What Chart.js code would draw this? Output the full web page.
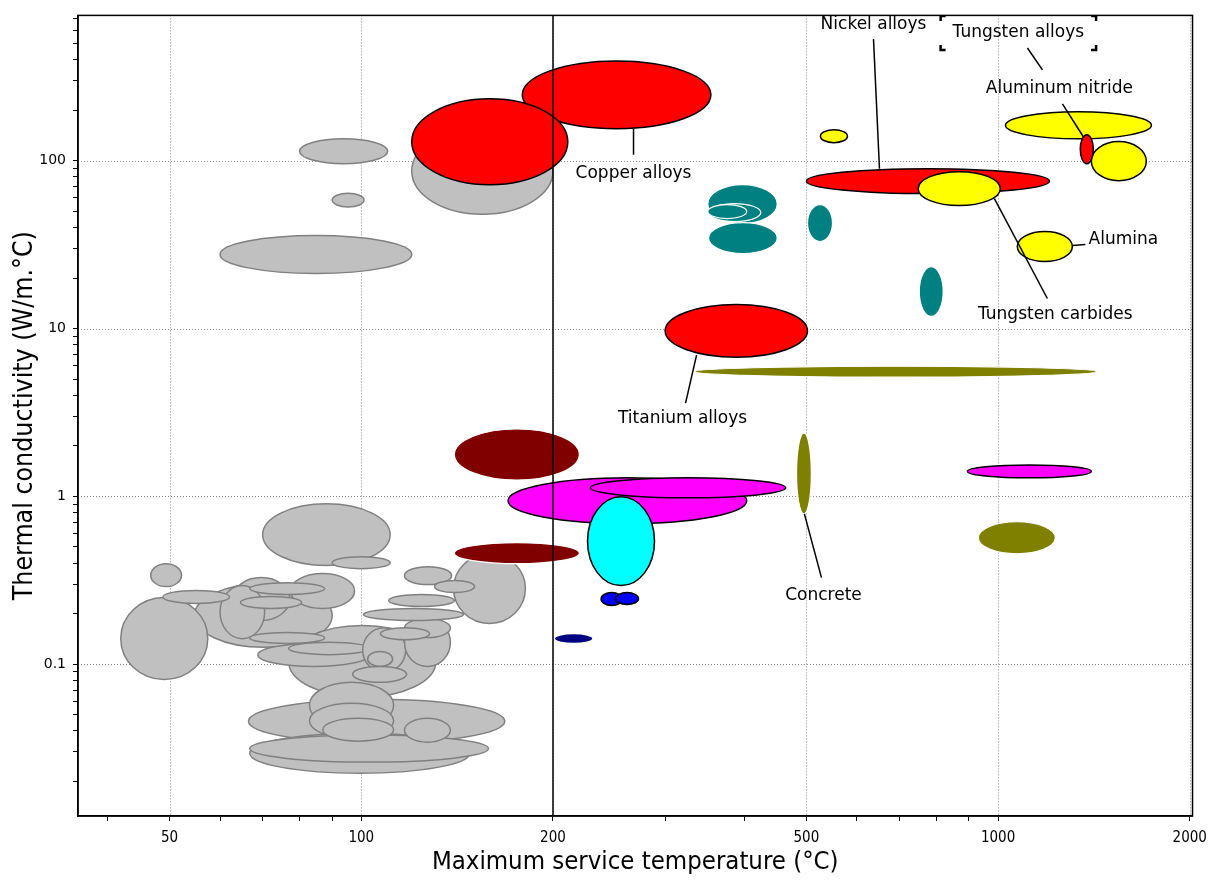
<!DOCTYPE html>
<html>
<head>
<meta charset="utf-8">
<script src="https://cdn.jsdelivr.net/npm/chart.js@4.4.0/dist/chart.umd.min.js"></script>
<style>
  html, body { margin: 0; padding: 0; background: #fff; }
  #wrap { width: 1215px; height: 881px; }
</style>
</head>
<body>
<div id="wrap"><canvas id="chart"></canvas></div>
<script>
// each row is a material family: [Tmin, Tmax, kMin, kMax]
// (max service temperature in °C, thermal conductivity in W/m.°C)
const greyRanges = [
  [54.7, 90, 0.126, 0.302],
  [70, 111, 0.387, 0.903],
  [90, 111, 0.371, 0.437],
  [139.6, 181, 0.175, 0.455],
  [76.9, 131, 0.0635, 0.17],
  [66.5, 168, 0.0338, 0.0618],
  [66.8, 148, 0.0224, 0.0388],
  [66.8, 158.4, 0.0261, 0.0378],
  [82.9, 112.4, 0.0416, 0.078],
  [82.9, 112.4, 0.0362, 0.0585],
  [87, 112.4, 0.0348, 0.0476],
  [116.9, 138, 0.0343, 0.0476],
  [62.8, 77.2, 0.182, 0.328],
  [77.4, 97.6, 0.215, 0.347],
  [60, 70.5, 0.142, 0.294],
  [41.9, 57.4, 0.081, 0.25],
  [48.8, 62.1, 0.23, 0.275],
  [46.7, 52.2, 0.29, 0.397],
  [66.8, 87.6, 0.26, 0.306],
  [64.6, 80.6, 0.215, 0.253],
  [66.8, 87.6, 0.133, 0.1545],
  [68.8, 103, 0.097, 0.133],
  [76.9, 103, 0.114, 0.135],
  [100.5, 117.4, 0.0894, 0.165],
  [102.3, 112, 0.097, 0.119],
  [96.9, 117.8, 0.078, 0.097],
  [116.9, 138, 0.097, 0.187],
  [116.9, 138, 0.144, 0.187],
  [107.2, 128, 0.14, 0.165],
  [100.8, 144.7, 0.182, 0.215],
  [110.4, 140, 0.221, 0.26],
  [116.9, 138.6, 0.298, 0.381],
  [130.3, 150.6, 0.267, 0.315],
  [80, 110, 96, 135],
  [90, 101, 53, 64],
  [60, 120, 21.3, 35.8],
  [120, 200, 48, 157],
];
const tealRanges = [
  [350, 450, 42.2, 72],
  [351, 424, 43.4, 55.5],
  [350, 403, 45.2, 54.8],
  [351, 450, 28, 42.8],
  [502, 549.5, 33, 54.8],
  [752, 820, 11.8, 23.4],
];
const oliveRanges = [
  [334, 1427, 5.13, 5.97],
  [482.5, 509, 0.787, 2.385],
  [931, 1230, 0.455, 0.706],
];
const maroonRanges = [
  [140, 220, 1.25, 2.52],
  [140, 220, 0.397, 0.53],
];
const navyRanges = [
  [201, 231, 0.133, 0.152],
];
const magentaRanges = [
  [170, 403, 0.687, 1.29],
  [229, 464, 0.98, 1.29],
  [895, 1401, 1.289, 1.539],
];
const cyanRanges = [
  [226.6, 288.7, 0.294, 0.994],
];
const blueRanges = [
  [238, 257, 0.224, 0.267],
  [250.7, 272.5, 0.227, 0.267],
];
const redRanges = [
  [179, 354, 155, 393],    // copper alloys
  [120, 211, 72, 234],     // copper alloys
  [300, 502, 6.75, 13.9],  // titanium alloys
  [500, 1204, 63.7, 89.6], // nickel alloys
];
const yellowRanges = [
  [526, 580, 128, 153],
  [749, 1008, 54, 86],      // tungsten carbides
  [1027, 1741, 135, 195.5], // tungsten alloys
  [1401, 1709, 76, 130],
  [1072, 1308, 25.1, 37.9], // alumina
];
const nitrideRanges = [
  [1346, 1411, 96, 142.7],
];

// callouts: [text, textT, textK, lineT1, lineK1, lineT2, lineK2]
const callouts = [
  ['Copper alloys', 267.6, 83.7, 267.6, 155, 267.6, 108.6],
  ['Titanium alloys', 319.5, 2.889, 336.1, 6.94, 323, 3.596],
  ['Concrete', 531.9, 0.2564, 496.4, 0.787, 528, 0.328],
  ['Nickel alloys', 637.3, 643, 637.3, 531, 651.2, 89.6],
  ['Tungsten alloys', 1076, 576.5, 1112, 469.4, 1174, 347.4],
  ['Aluminum nitride', 1248, 267.9, 1262, 218.1, 1361, 138.9],
  ['Alumina', 1573, 33.9, 1308, 31.2, 1371, 31.7],
  ['Tungsten carbides', 1230, 12.16, 986.8, 59.5, 1195, 15.1],
];
const selectedCallout = 'Tungsten alloys';

const xTicks = [40, 50, 60, 70, 80, 90, 100, 200, 300, 400, 500, 600, 700, 800, 900, 1000, 2000];
const xLabelled = [50, 100, 200, 500, 1000, 2000];
const yTicks = [0.02, 0.03, 0.04, 0.05, 0.06, 0.07, 0.08, 0.09, 0.1, 0.2, 0.3, 0.4, 0.5, 0.6, 0.7, 0.8, 0.9,
  1, 2, 3, 4, 5, 6, 7, 8, 9, 10, 20, 30, 40, 50, 60, 70, 80, 90, 100, 200, 300, 400, 500, 600, 700];
const yLabelled = [0.1, 1, 10, 100];
const refTemperature = 200;

const condensed = "'DejaVu Sans Condensed', 'DejaVu Sans', sans-serif";

const layers = [
  { ranges: greyRanges, fill: '#c0c0c0', stroke: '#808080', width: 1.5 },
  { ranges: tealRanges, fill: '#008080', stroke: '#ffffff', width: 1.2 },
  { ranges: oliveRanges, fill: '#808000', stroke: '#ffffff', width: 1.2 },
  { ranges: maroonRanges, fill: '#800000', stroke: '#ffffff', width: 1.2 },
  { ranges: navyRanges, fill: '#000080', stroke: '#ffffff', width: 1.2 },
  { ranges: magentaRanges, fill: '#ff00ff', stroke: '#000000', width: 1.5 },
  { ranges: cyanRanges, fill: '#00ffff', stroke: '#000000', width: 1.5 },
  { ranges: blueRanges, fill: '#0000ff', stroke: '#000000', width: 1.5 },
  { ranges: redRanges, fill: '#ff0000', stroke: '#000000', width: 1.5 },
  { ranges: yellowRanges, fill: '#ffff00', stroke: '#000000', width: 1.5 },
  { ranges: nitrideRanges, fill: '#ff0000', stroke: '#000000', width: 1.5 },
];

const bubblesPlugin = {
  id: 'bubbles',
  beforeDatasetsDraw(chart) {
    const { ctx, chartArea: a, scales: { x, y } } = chart;
    ctx.save();
    ctx.beginPath();
    ctx.rect(a.left, a.top, a.width, a.height);
    ctx.clip();

    // dotted grid at the labelled ticks
    ctx.strokeStyle = '#8a8a8a';
    ctx.lineWidth = 1;
    ctx.setLineDash([1, 2]);
    xLabelled.forEach(v => {
      const px = Math.round(x.getPixelForValue(v)) + 0.5;
      ctx.beginPath(); ctx.moveTo(px, a.top); ctx.lineTo(px, a.bottom); ctx.stroke();
    });
    yLabelled.forEach(v => {
      const py = Math.round(y.getPixelForValue(v)) + 0.5;
      ctx.beginPath(); ctx.moveTo(a.left, py); ctx.lineTo(a.right, py); ctx.stroke();
    });
    ctx.setLineDash([]);

    // material families as ellipses spanning their ranges
    layers.forEach(layer => {
      layer.ranges.forEach(r => {
        const x0 = x.getPixelForValue(r[0]), x1 = x.getPixelForValue(r[1]);
        const y0 = y.getPixelForValue(r[2]), y1 = y.getPixelForValue(r[3]);
        ctx.beginPath();
        ctx.ellipse((x0 + x1) / 2, (y0 + y1) / 2, Math.abs(x1 - x0) / 2, Math.abs(y1 - y0) / 2, 0, 0, Math.PI * 2);
        ctx.fillStyle = layer.fill;
        ctx.fill();
        ctx.lineWidth = layer.width;
        ctx.strokeStyle = layer.stroke;
        ctx.stroke();
      });
    });

    // reference line
    const rx = x.getPixelForValue(refTemperature);
    ctx.strokeStyle = '#000';
    ctx.lineWidth = 1.5;
    ctx.beginPath(); ctx.moveTo(rx, a.top); ctx.lineTo(rx, a.bottom); ctx.stroke();

    // callouts
    ctx.font = "17px 'DejaVu Sans', sans-serif";
    ctx.fillStyle = '#000';
    ctx.textAlign = 'center';
    ctx.textBaseline = 'middle';
    callouts.forEach(c => {
      const tx = x.getPixelForValue(c[1]), ty = y.getPixelForValue(c[2]);
      ctx.lineWidth = 1.5;
      ctx.beginPath();
      ctx.moveTo(x.getPixelForValue(c[3]), y.getPixelForValue(c[4]));
      ctx.lineTo(x.getPixelForValue(c[5]), y.getPixelForValue(c[6]));
      ctx.stroke();
      ctx.fillText(c[0], tx, ty);
      if (c[0] === selectedCallout) {
        const w = ctx.measureText(c[0]).width / 2 + 12;
        const h = 17;
        const s = 5;
        ctx.lineWidth = 2.5;
        [[-1, -1], [1, -1], [-1, 1], [1, 1]].forEach(([sx, sy]) => {
          const cx = tx + sx * w, cy = ty + sy * h;
          ctx.beginPath();
          ctx.moveTo(cx - sx * s, cy);
          ctx.lineTo(cx, cy);
          ctx.lineTo(cx, cy - sy * s);
          ctx.stroke();
        });
      }
    });
    ctx.restore();
  },
  afterDraw(chart) {
    const { ctx, chartArea: a } = chart;
    ctx.save();
    ctx.strokeStyle = '#000';
    ctx.lineWidth = 1.5;
    ctx.strokeRect(a.left, a.top, a.width, a.height);
    ctx.restore();
  }
};

const chart = new Chart(document.getElementById('chart'), {
  type: 'scatter',
  data: { datasets: [] },
  options: {
    responsive: true,
    maintainAspectRatio: false,
    animation: false,
    layout: { padding: { top: 13, right: 22, left: 0, bottom: 0 } },
    plugins: { legend: { display: false }, tooltip: { enabled: false } },
    scales: {
      x: {
        type: 'logarithmic',
        min: 35.9,
        max: 2020,
        afterBuildTicks: scale => { scale.ticks = xTicks.map(v => ({ value: v })); },
        afterFit: scale => { scale.height = 65; },
        ticks: {
          autoSkip: false,
          maxRotation: 0,
          padding: 8,
          color: '#000',
          font: { family: condensed, size: 15 },
          callback: v => xLabelled.includes(v) ? String(v) : '',
        },
        grid: { drawOnChartArea: false, drawTicks: true, tickLength: 5, color: '#000', tickColor: '#000' },
        border: { display: true, color: '#000', width: 1.5 },
        title: {
          display: true,
          text: 'Maximum service temperature (°C)',
          color: '#000',
          font: { family: condensed, size: 25.5 },
          padding: { top: 0, bottom: 3 },
        },
      },
      y: {
        type: 'logarithmic',
        min: 0.01246,
        max: 734,
        afterBuildTicks: scale => { scale.ticks = yTicks.map(v => ({ value: v })); },
        afterFit: scale => { scale.width = 78; },
        ticks: {
          autoSkip: false,
          padding: 7,
          color: '#000',
          font: { family: "'DejaVu Sans', sans-serif", size: 14 },
          callback: v => yLabelled.includes(v) ? String(v) : '',
        },
        grid: { drawOnChartArea: false, drawTicks: true, tickLength: 5, color: '#000', tickColor: '#000' },
        border: { display: true, color: '#000', width: 1.5 },
        title: {
          display: true,
          text: 'Thermal conductivity (W/m.°C)',
          color: '#000',
          font: { family: condensed, size: 26.5 },
          padding: { top: 9, bottom: 0 },
        },
      },
    },
  },
  plugins: [bubblesPlugin],
});
</script>
</body>
</html>
